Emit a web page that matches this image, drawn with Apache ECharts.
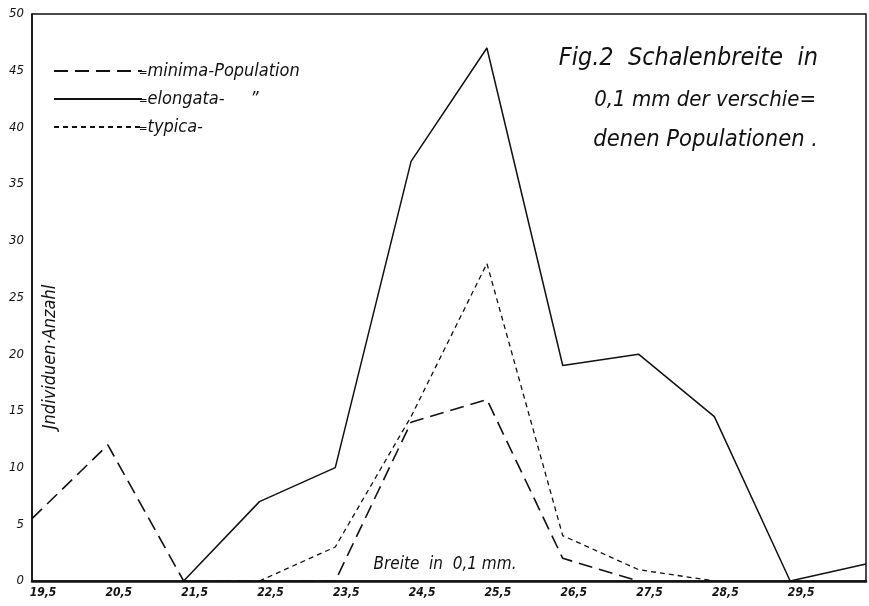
<!DOCTYPE html>
<html>
<head>
<meta charset="utf-8">
<script src="https://cdn.jsdelivr.net/npm/echarts@6/dist/echarts.min.js"></script>
<style>
html,body{margin:0;padding:0;background:#fff;}
#c{width:869px;height:606px;}
</style>
</head>
<body>
<div id="c"></div>
<script>
// Data
const categories = ['19,5','20,5','21,5','22,5','23,5','24,5','25,5','26,5','27,5','28,5','29,5','30,5'];
const minima   = [5.5, 12, 0, 0, 0, 14, 16, 2, 0, null, null, null];
const elongata = [null, null, 0, 7, 10, 37, 47, 19, 20, 14.5, 0, 1.5];
const typica   = [null, null, null, 0, 3, 14.5, 28, 4, 1, 0, null, null];
const seriesNames = ['minima-Population', 'elongata-Population', 'typica-Population'];
const legendTexts = ['minima-Population', 'elongata-     \u201D', 'typica-'];
const yTicks = [0,5,10,15,20,25,30,35,40,45,50];

const F = '"DejaVu Sans Condensed","DejaVu Sans",sans-serif';
const chart = echarts.init(document.getElementById('c'), null, {renderer:'canvas'});

chart.setOption({
  backgroundColor: '#fff',
  animation: false,
  grid: { left: 32, right: 3, top: 14, bottom: 25, show: true, borderColor: '#111', borderWidth: 1.5 },
  legend: {
    orient: 'vertical', left: 48, top: 56,
    itemWidth: 88, itemHeight: 14, itemGap: 8,
    data: seriesNames,
    itemStyle: { color: 'transparent', borderColor: 'transparent', borderWidth: 0 },
    textStyle: { fontFamily: F, fontStyle: 'italic', fontSize: 18, lineHeight: 20, color: '#111', padding:[0,0,0,-8] },
    formatter: function(n){ return '\u208C' + legendTexts[seriesNames.indexOf(n)]; },
    selectedMode: false
  },
  xAxis: {
    type: 'category', data: categories, boundaryGap: false,
    axisLine: { lineStyle: { color: '#111', width: 2.5 } },
    axisTick: { show: false },
    splitLine: { show: false },
    axisLabel: {
      interval: 0, margin: 6, color: '#111', fontFamily: F, fontStyle: 'italic', fontWeight: 'bold', fontSize: 12,
      padding: [0,0,0,22],
      formatter: function(v, i){ return i === categories.length - 1 ? '' : v; }
    }
  },
  yAxis: {
    type: 'value', min: 0, max: 50, interval: 5,
    axisLine: { show: true, lineStyle: { color: '#111', width: 1.5 } },
    axisTick: { show: false },
    splitLine: { show: false },
    axisLabel: { margin: 8, color: '#111', fontFamily: F, fontStyle: 'italic', fontSize: 13,
      formatter: function(v){ return yTicks.indexOf(v) >= 0 ? String(v) : ''; } }
  },
  series: [
    { name: seriesNames[0], type: 'line', data: minima, symbol: 'none', connectNulls: false,
      lineStyle: { color: '#111', width: 1.6, type: [14, 7] }, itemStyle: {color:'#111'}, z: 3 },
    { name: seriesNames[1], type: 'line', data: elongata, symbol: 'none',
      lineStyle: { color: '#111', width: 1.5, type: 'solid' }, itemStyle: {color:'#111'}, z: 2 },
    { name: seriesNames[2], type: 'line', data: typica, symbol: 'none',
      lineStyle: { color: '#111', width: 1.3, type: [5, 4] }, itemStyle: {color:'#111'}, z: 4 }
  ],
  graphic: [
    { type: 'text', x: 818, y: 58, style: { text: 'Fig.2  Schalenbreite  in', align: 'right', verticalAlign: 'middle', font: 'italic 25px ' + F, fill: '#111' } },
    { type: 'text', x: 816, y: 100, style: { text: '0,1 mm der verschie=', align: 'right', verticalAlign: 'middle', font: 'italic 22px ' + F, fill: '#111' } },
    { type: 'text', x: 818, y: 140, style: { text: 'denen Populationen .', align: 'right', verticalAlign: 'middle', font: 'italic 23.5px ' + F, fill: '#111' } },
    { type: 'text', x: 50, y: 357, rotation: Math.PI/2, style: { text: 'Jndividuen\u00B7Anzahl', align: 'center', verticalAlign: 'middle', font: 'italic 18px ' + F, fill: '#111' } },
    { type: 'text', x: 445, y: 565, style: { text: 'Breite  in  0,1 mm.', align: 'center', verticalAlign: 'middle', font: 'italic 17px ' + F, fill: '#111' } }
  ]
});
</script>
</body>
</html>
